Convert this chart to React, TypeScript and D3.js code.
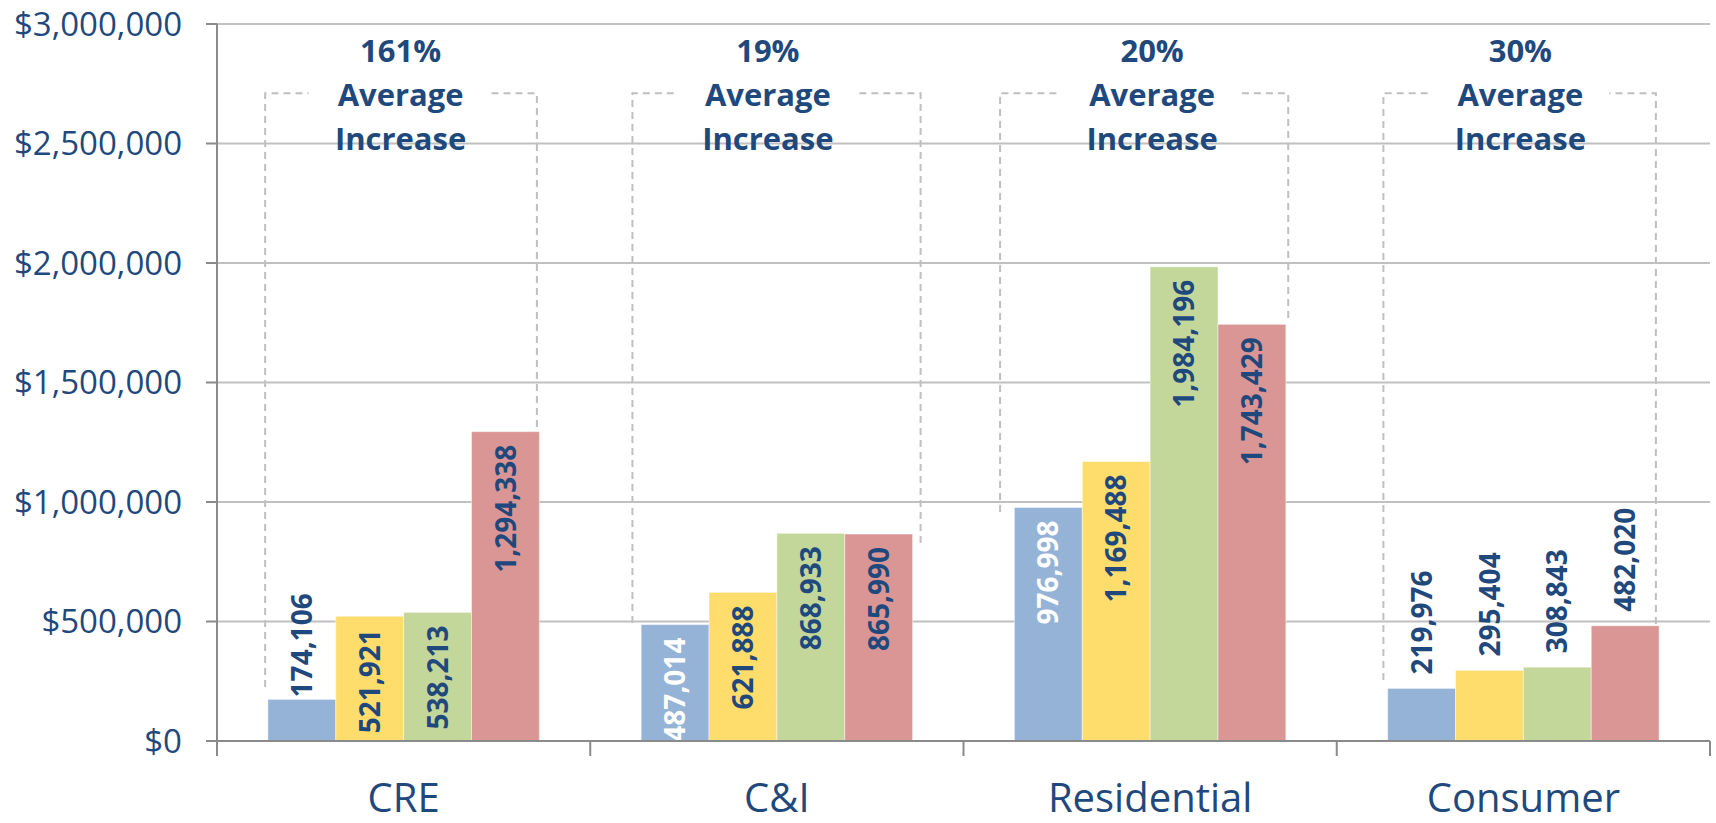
import React from "react";
import * as d3 from "d3";

// ---------- data ----------
const categories = ["CRE", "C&I", "Residential", "Consumer"];
const seriesNames = ["S1", "S2", "S3", "S4"];
const values: number[][] = [
  [174106, 521921, 538213, 1294338],
  [487014, 621888, 868933, 865990],
  [976998, 1169488, 1984196, 1743429],
  [219976, 295404, 308843, 482020],
];
const increases = ["161%", "19%", "20%", "30%"];
const yTicks = [0, 500000, 1000000, 1500000, 2000000, 2500000, 3000000];
// label placement per bar: "in" = inside end, "out" = outside end
const labelPlacement = [
  ["out", "in", "in", "in"],
  ["in", "in", "in", "in"],
  ["in", "in", "in", "in"],
  ["out", "out", "out", "out"],
];
// dashed bracket: vertical line bottoms (in value units)
const bracketTopValue = 2710000;
const bracketLeftEnd = [226000, 494000, 958000, 255000];
const bracketRightEnd = [360000, 828000, 1770000, 289000];

// ---------- layout / style ----------
const W = 1716;
const H = 823;
const left = 217;
const right = 1710;
const top = 24;
const bottom = 741;
const colors = ["#95B3D7", "#FFDD6C", "#C4D79B", "#DA9694"];
const textColor = "#1F497D";
const gridColor = "#C0C0C0";
const axisColor = "#8A8A8A";
const font = "'Open Sans', 'DejaVu Sans', sans-serif";
const bracketLeftFrac = [0.129, 0.113, 0.098, 0.125];
const bracketRightFrac = [0.857, 0.885, 0.87, 0.855];
const annoOffset = [-3, -9, 2, -3];
const outsideGap = [2, 14, 14, 14];
const insideGap = 13;

export default function App() {
  const x0 = d3.scaleBand<string>().domain(categories).range([left, right]).paddingInner(0).paddingOuter(0);
  const x1 = d3
    .scaleBand<string>()
    .domain(seriesNames)
    .range([0, x0.bandwidth()])
    .paddingInner(0)
    .paddingOuter(0.75);
  const y = d3.scaleLinear().domain([0, 3000000]).range([bottom, top]);
  const fmtTick = (v: number) => "$" + d3.format(",")(v);
  const fmtVal = d3.format(",");

  const catTicks = [...categories.map((c) => x0(c)!), right];

  return (
    <svg
      width={W}
      height={H}
      style={{ position: "absolute", left: 0, top: 0, display: "block", background: "#fff" }}
      fontFamily={font}
    >
      {/* gridlines */}
      {yTicks.map((t) =>
        t === 0 ? null : (
          <line key={"g" + t} x1={left} x2={right} y1={y(t)} y2={y(t)} stroke={gridColor} strokeWidth={2} />
        )
      )}
      {/* y tick marks and labels */}
      {yTicks.map((t) => (
        <g key={"yt" + t}>
          <line x1={206} x2={left} y1={y(t)} y2={y(t)} stroke={axisColor} strokeWidth={2} />
          <text
            x={182}
            y={y(t)}
            dy="0.36em"
            textAnchor="end"
            fontSize={33}
            fill={textColor}
          >
            {fmtTick(t)}
          </text>
        </g>
      ))}

      {/* brackets */}
      {categories.map((c, i) => {
        const b0 = x0(c)!;
        const bw = x0.bandwidth();
        const lx = b0 + bw * bracketLeftFrac[i];
        const rx = b0 + bw * bracketRightFrac[i];
        const ty = y(bracketTopValue);
        const cx = b0 + bw / 2 + annoOffset[i];
        const dash = "7,5";
        return (
          <g key={"br" + c} stroke="#BFBFBF" strokeWidth={2} strokeDasharray={dash} fill="none">
            <path d={`M${lx},${y(bracketLeftEnd[i])}V${ty}H${cx - 92}`} />
            <path d={`M${rx},${y(bracketRightEnd[i])}V${ty}H${cx + 89}`} />
          </g>
        );
      })}

      {/* bars */}
      {categories.map((c, i) => (
        <g key={"bars" + c} transform={`translate(${x0(c)},0)`}>
          {seriesNames.map((s, j) => (
            <rect
              key={s}
              x={x1(s)}
              y={y(values[i][j])}
              width={x1.bandwidth()}
              height={bottom - y(values[i][j])}
              fill={colors[j]}
              stroke="#ffffff"
              strokeOpacity={0.45}
              strokeWidth={1}
            />
          ))}
        </g>
      ))}

      {/* value labels */}
      {categories.map((c, i) =>
        seriesNames.map((s, j) => {
          const v = values[i][j];
          const cx = x0(c)! + x1(s)! + x1.bandwidth() / 2;
          const inside = labelPlacement[i][j] === "in";
          const ty = inside ? y(v) + insideGap : y(v) - outsideGap[i];
          const fill = inside && j === 0 ? "#FFFFFF" : textColor;
          return (
            <text
              key={"lbl" + c + s}
              transform={`translate(${cx},${ty}) rotate(-90)`}
              textAnchor={inside ? "end" : "start"}
              dy="0.36em"
              fontSize={28}
              fontWeight={700}
              fill={fill}
            >
              {fmtVal(v)}
            </text>
          );
        })
      )}

      {/* x axis */}
      <line x1={206} x2={right} y1={bottom} y2={bottom} stroke={axisColor} strokeWidth={2} />
      <line x1={left} x2={left} y1={top} y2={bottom} stroke={axisColor} strokeWidth={2} />
      {catTicks.map((t, k) => (
        <line key={"xt" + k} x1={t} x2={t} y1={bottom} y2={756} stroke={axisColor} strokeWidth={2} />
      ))}
      {categories.map((c) => (
        <text
          key={"cl" + c}
          x={x0(c)! + x0.bandwidth() / 2}
          y={812}
          textAnchor="middle"
          fontSize={40}
          fill={textColor}
        >
          {c}
        </text>
      ))}

      {/* annotations */}
      {categories.map((c, i) => {
        const cx = x0(c)! + x0.bandwidth() / 2 + annoOffset[i];
        return (
          <text key={"an" + c} x={cx} textAnchor="middle" fontSize={31} fontWeight={700} fill={textColor}>
            <tspan x={cx} y={62}>
              {increases[i]}
            </tspan>
            <tspan x={cx} y={106}>
              Average
            </tspan>
            <tspan x={cx} y={150}>
              Increase
            </tspan>
          </text>
        );
      })}
    </svg>
  );
}
